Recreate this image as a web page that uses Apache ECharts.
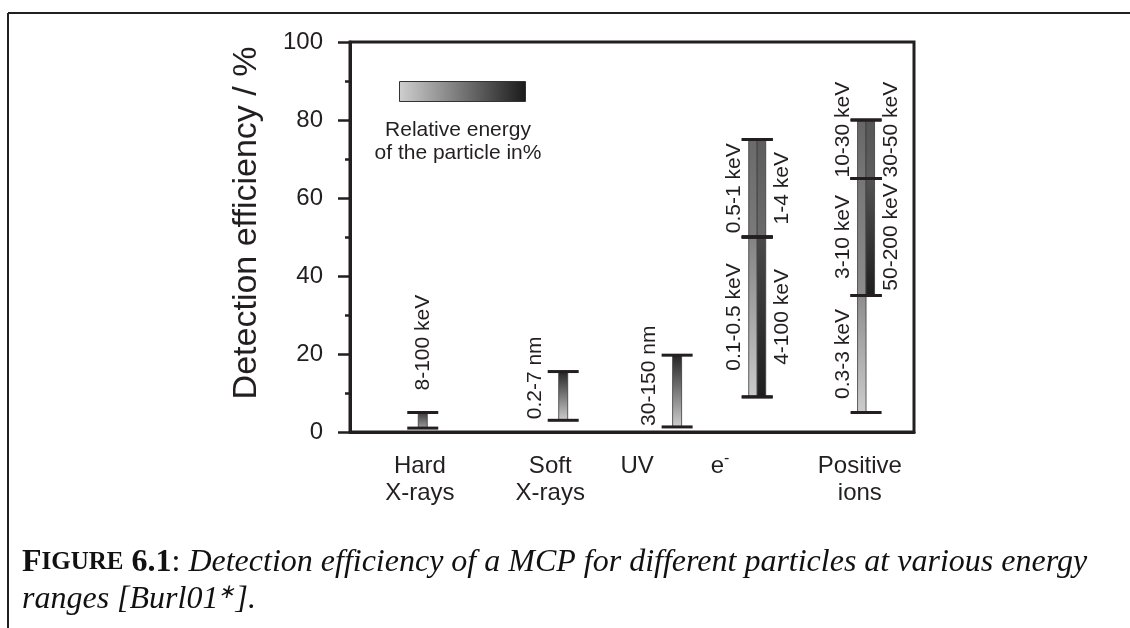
<!DOCTYPE html>
<html>
<head>
<meta charset="utf-8">
<script src="https://cdn.jsdelivr.net/npm/echarts@6/dist/echarts.min.js"></script>
<style>
  html, body { margin: 0; padding: 0; background: #ffffff; }
  #chart { width: 1130px; height: 628px; }
</style>
</head>
<body>
<div id="chart"></div>
<script>
// ---- data -------------------------------------------------------------
const categories  = ['Hard\nX-rays', 'Soft\nX-rays', 'UV', 'e{sup|-}', 'Positive\nions'];
const categoryPos = [12.4, 35.5, 50.9, 65.6, 90.4];   // category names on the x scale
const barPos      = [12.9, 37.8, 58.0, 72.2, 91.5];   // range bars on the x scale
const yTicks      = [0, 20, 40, 60, 80, 100];

// one entry per energy band
const bandCategory = [0, 1, 2, 3, 3, 3, 3, 4, 4, 4, 4, 4];
const bandColumn   = [0, 0, 0, 0, 0, 1, 1, 0, 0, 0, 1, 1];   // 0 = left sub-bar, 1 = right sub-bar
const bandLow      = [1, 3, 1.3, 9, 50, 9, 50, 5, 35, 65, 35, 65];        // detection efficiency, %
const bandHigh     = [5, 15.5, 19.7, 50, 75, 50, 75, 35, 65, 80, 65, 80];  // detection efficiency, %
const bandLabel    = ['8-100 keV', '0.2-7 nm', '30-150 nm',
                      '0.1-0.5 keV', '0.5-1 keV', '4-100 keV', '1-4 keV',
                      '0.3-3 keV', '3-10 keV', '10-30 keV', '50-200 keV', '30-50 keV'];
const bandLabelSide = ['top', 'left', 'left', 'left', 'left', 'right', 'right',
                       'left', 'left', 'left', 'right', 'right'];
// relative energy of the particle (%) at the low / high efficiency end of each band
const energyLow    = [30, 5, 5, 8, 50, 98, 58, 7, 40, 52, 98, 65];
const energyHigh   = [85, 95, 95, 45, 58, 75, 65, 40, 52, 60, 70, 68];

// ---- style ------------------------------------------------------------
const INK = '#231f20';
const SANS = '"Liberation Sans", Arial, Helvetica, sans-serif';
const SERIF = '"Liberation Serif", "Times New Roman", serif';
const LABEL_SIZE = 21;

function energyColor(pct) {
  const light = 217, dark = 26;
  const v = Math.round(light + (dark - light) * pct / 100);
  return 'rgb(' + v + ',' + v + ',' + v + ')';
}

const measureCtx = document.createElement('canvas').getContext('2d');
function textWidth(str, size) {
  measureCtx.font = size + 'px ' + SANS;
  return measureCtx.measureText(str).width;
}

const columnCount = categories.map((_, c) =>
  Math.max(...bandCategory.map((bc, i) => bc === c ? bandColumn[i] + 1 : 0)));

const bandData = bandCategory.map((c, i) => [barPos[c], bandLow[i], bandHigh[i], i]);

const SUB_W = 8.5, CAP_HALF = 15.5;

function bandGeometry(params, api) {
  const i = api.value(3);
  const c = bandCategory[i];
  const top = api.coord([api.value(0), api.value(2)]);
  const bot = api.coord([api.value(0), api.value(1)]);
  return { i, c, cx: top[0], yTop: top[1], yBot: bot[1] };
}

function renderBand(params, api) {
  const g = bandGeometry(params, api);
  const cols = columnCount[g.c];
  let x0;
  if (cols === 1) x0 = g.cx - 4.5;
  else x0 = g.cx - SUB_W + bandColumn[g.i] * SUB_W;
  const w = cols === 1 ? 9 : SUB_W;
  return {
    type: 'rect',
    shape: { x: x0, y: g.yTop, width: w, height: g.yBot - g.yTop },
    style: {
      fill: new echarts.graphic.LinearGradient(0, 1, 0, 0, [
        { offset: 0, color: energyColor(energyLow[g.i]) },
        { offset: 1, color: energyColor(energyHigh[g.i]) }
      ]),
      stroke: '#3a3a3a',
      lineWidth: 0.8
    }
  };
}

function renderCapsAndLabel(params, api) {
  const g = bandGeometry(params, api);
  const children = [];
  [g.yTop, g.yBot].forEach(y => {
    children.push({
      type: 'line',
      shape: { x1: g.cx - CAP_HALF, y1: y, x2: g.cx + CAP_HALF, y2: y },
      style: { stroke: INK, lineWidth: 3 }
    });
  });
  const text = bandLabel[g.i];
  const side = bandLabelSide[g.i];
  const len = textWidth(text, LABEL_SIZE);
  const single = columnCount[g.c] === 1;
  let x, y, align;
  if (side === 'top') {
    x = g.cx; y = g.yTop - 22; align = 'left';
  } else {
    x = side === 'left' ? g.cx - (single ? 28 : 23) : g.cx + 25;
    if (len > g.yBot - g.yTop) { y = g.yBot - 1; align = 'left'; }
    else { y = (g.yTop + g.yBot) / 2; align = 'center'; }
  }
  children.push({
    type: 'text',
    x: x, y: y,
    rotation: Math.PI / 2,
    style: {
      text: text, fill: INK, fontSize: LABEL_SIZE, fontFamily: SANS,
      align: align, verticalAlign: 'middle'
    }
  });
  return { type: 'group', children: children };
}

// ---- chart ------------------------------------------------------------
const chart = echarts.init(document.getElementById('chart'), null, { renderer: 'canvas' });

const legendLeft = 399, legendTop = 81;

chart.setOption({
  backgroundColor: '#ffffff',
  animation: false,
  grid: {
    left: 350, right: 216, top: 42, bottom: 196,
    show: true, borderColor: INK, borderWidth: 3, backgroundColor: 'transparent'
  },
  xAxis: {
    type: 'value', min: 0, max: 100,
    axisLine: { show: true, lineStyle: { color: INK, width: 3 } },
    axisTick: { show: false },
    splitLine: { show: false },
    axisLabel: {
      customValues: categoryPos,
      formatter: v => categories[categoryPos.indexOf(v)] || '',
      color: INK, fontSize: 24, fontFamily: SANS, lineHeight: 27, margin: 21,
      rich: { sup: { fontSize: 16, color: INK, fontFamily: SANS, padding: [0, 0, 16, 0] } }
    }
  },
  yAxis: {
    type: 'value', min: 0, max: 100, interval: 20,
    name: 'Detection efficiency / %', nameLocation: 'middle', nameGap: 86,
    nameTextStyle: { color: INK, fontSize: 34, fontFamily: SANS, padding: [0, 0, 0, 28] },
    axisLine: { show: true, lineStyle: { color: INK, width: 3 } },
    axisTick: { show: true, inside: false, length: 12, lineStyle: { color: INK, width: 2.5 } },
    minorTick: { show: true, splitNumber: 2, length: 5, lineStyle: { color: INK, width: 2.5 } },
    splitLine: { show: false },
    axisLabel: {
      color: INK, fontSize: 24, fontFamily: SANS, margin: 27,
      formatter: v => yTicks.includes(v) ? String(v) : ''
    }
  },
  series: [
    {
      type: 'custom', name: 'bands', renderItem: renderBand,
      data: bandData, encode: { x: 0, y: [1, 2] }, z: 2, clip: false
    },
    {
      type: 'custom', name: 'caps', renderItem: renderCapsAndLabel,
      data: bandData, encode: { x: 0, y: [1, 2] }, z: 3, clip: false
    }
  ],
  graphic: [
    // page frame
    { type: 'line', shape: { x1: 8, y1: 13, x2: 1130, y2: 13 }, style: { stroke: INK, lineWidth: 2 } },
    { type: 'line', shape: { x1: 8, y1: 13, x2: 8, y2: 628 }, style: { stroke: INK, lineWidth: 2 } },
    // energy scale key
    {
      type: 'rect', left: legendLeft, top: legendTop,
      shape: { width: 126, height: 20 },
      style: {
        fill: new echarts.graphic.LinearGradient(0, 0, 1, 0, [
          { offset: 0, color: energyColor(5) },
          { offset: 1, color: energyColor(100) }
        ]),
        stroke: '#333333', lineWidth: 1
      }
    },
    {
      type: 'text', x: 458, y: 119,
      style: {
        text: 'Relative energy\nof the particle in%', fill: INK,
        fontSize: 21, fontFamily: SANS, lineHeight: 23, align: 'center', verticalAlign: 'top'
      }
    },
    // caption
    {
      type: 'text', x: 22, y: 544,
      style: {
        text: '{f|F}{sc|IGURE} {b|6.1}{n|:} {it|Detection efficiency of a MCP for different particles at various energy}\n' +
              '{it|ranges [Burl01}{sup|∗}{it|].}',
        fill: '#111111', fontFamily: SERIF, fontSize: 32, lineHeight: 37,
        rich: {
          f:   { fontFamily: SERIF, fontSize: 32, fontWeight: 'bold', lineHeight: 37 },
          sc:  { fontFamily: SERIF, fontSize: 25, fontWeight: 'bold', lineHeight: 37 },
          b:   { fontFamily: SERIF, fontSize: 32, fontWeight: 'bold', lineHeight: 37 },
          n:   { fontFamily: SERIF, fontSize: 32, lineHeight: 37 },
          it:  { fontFamily: SERIF, fontSize: 32, fontStyle: 'italic', lineHeight: 37 },
          sup: { fontFamily: SERIF, fontSize: 20, fontStyle: 'italic', lineHeight: 37, padding: [0, 0, 14, 0] }
        }
      }
    }
  ]
});
</script>
</body>
</html>
